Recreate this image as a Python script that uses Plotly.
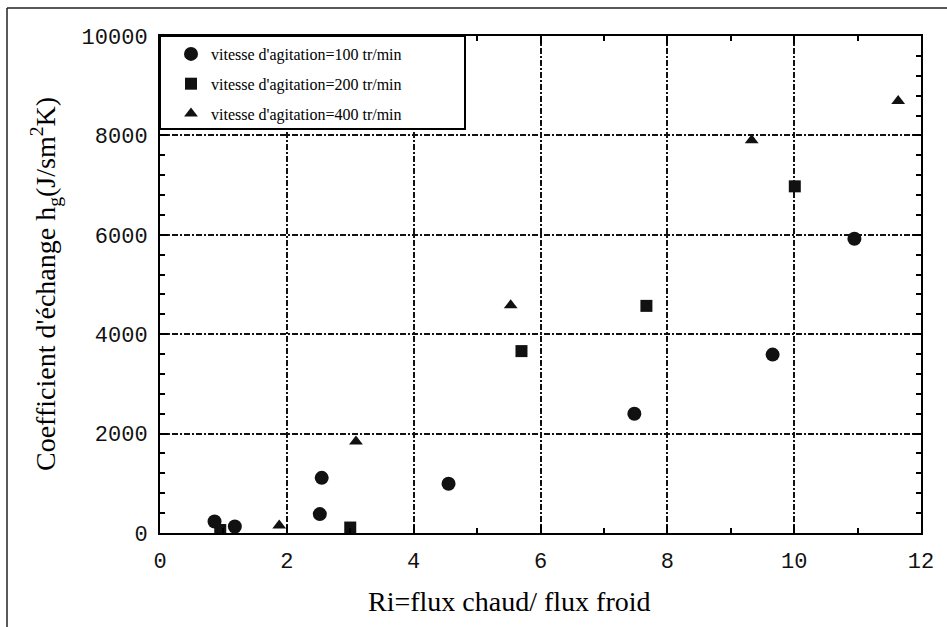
import plotly.graph_objects as go

# Data
x_100 = [0.86, 1.18, 2.52, 2.55, 4.55, 7.48, 9.66, 10.95]
y_100 = [230, 130, 380, 1110, 990, 2400, 3590, 5920]

x_200 = [0.95, 3.00, 5.70, 7.67, 10.01]
y_200 = [60, 110, 3660, 4570, 6975]

x_400 = [1.88, 3.09, 5.53, 9.33, 11.64]
y_400 = [150, 1840, 4580, 7900, 8690]

names = ["vitesse d'agitation=100 tr/min",
         "vitesse d'agitation=200 tr/min",
         "vitesse d'agitation=400 tr/min"]

x_ticks = [0, 2, 4, 6, 8, 10, 12]
y_ticks = [0, 2000, 4000, 6000, 8000, 10000]

ink = "#111111"
serif = "Liberation Serif"
mono = "Liberation Mono"

fig = go.Figure()
fig.add_trace(go.Scatter(x=x_100, y=y_100, mode="markers", name=names[0], legendgroup="a",
                         marker=dict(symbol="circle", size=14, color=ink)))
fig.add_trace(go.Scatter(x=x_200, y=y_200, mode="markers", name=names[1], legendgroup="b",
                         marker=dict(symbol="square", size=12, color=ink)))
fig.add_trace(go.Scatter(x=x_400, y=y_400, mode="markers", name=names[2], legendgroup="c",
                         marker=dict(symbol="triangle-up", size=12, color=ink)))

axis_common = dict(
    showline=True, linecolor="#000", linewidth=2, mirror="allticks",
    ticks="inside", ticklen=8, tickwidth=1.5, tickcolor="#000",
    showgrid=True, gridcolor="#111", gridwidth=1.7, griddash="6px,2px,2px,2px",
    zeroline=False,
    tickfont=dict(family=mono, size=22, color="#111"),
)

fig.update_xaxes(range=[0, 12], tickvals=x_ticks, ticktext=[str(v) for v in x_ticks],
                 ticklabelstandoff=7,
                 minor=dict(dtick=1, ticks="inside", ticklen=5, tickcolor="#000", showgrid=False),
                 **axis_common)
fig.update_yaxes(range=[0, 10000], tickvals=y_ticks, ticktext=[str(v) for v in y_ticks],
                 ticklabelstandoff=6,
                 minor=dict(dtick=400, ticks="inside", ticklen=5, tickcolor="#000", showgrid=False),
                 **axis_common)

# legend box (white, bordered) drawn as a shape
fig.add_shape(type="rect", xref="paper", yref="paper",
              x0=0, x1=(465 - 160) / 761, y0=(533 - 129) / 497, y1=1,
              line=dict(color="#000", width=2), fillcolor="white", layer="above")

# outer frame (left and top edges of the scanned figure)
fx = (7 - 160) / 761
fy = (533 - 8) / 497
fig.add_shape(type="line", xref="paper", yref="paper", x0=fx, x1=fx, y0=-0.3, y1=fy,
              line=dict(color="#222", width=1.5))
fig.add_shape(type="line", xref="paper", yref="paper", x0=fx, x1=1.2, y0=fy, y1=fy,
              line=dict(color="#222", width=1.5))

# axis titles
fig.add_annotation(text="Ri=flux chaud/ flux froid", xref="paper", yref="paper",
                   x=(509 - 160) / 761, y=(533 - 601) / 497, xanchor="center", yanchor="middle",
                   showarrow=False, font=dict(family=serif, size=28, color="#000"))
fig.add_annotation(text="Coefficient d'échange h<sub>g</sub>(J/sm<sup>2</sup>K)",
                   xref="paper", yref="paper", textangle=-90,
                   x=(45 - 160) / 761, y=(533 - 284) / 497, xanchor="center", yanchor="middle",
                   showarrow=False, font=dict(family=serif, size=28, color="#000"))

fig.update_layout(
    width=947, height=627,
    margin=dict(l=160, r=26, t=36, b=94),
    paper_bgcolor="white", plot_bgcolor="white",
    showlegend=True,
    legend=dict(x=(171 - 160) / 761, y=0.998, xanchor="left", yanchor="top",
                bgcolor="rgba(0,0,0,0)", borderwidth=0, tracegroupgap=6,
                font=dict(family=serif, size=16, color="#000")),
)

fig.write_html("out.html")
